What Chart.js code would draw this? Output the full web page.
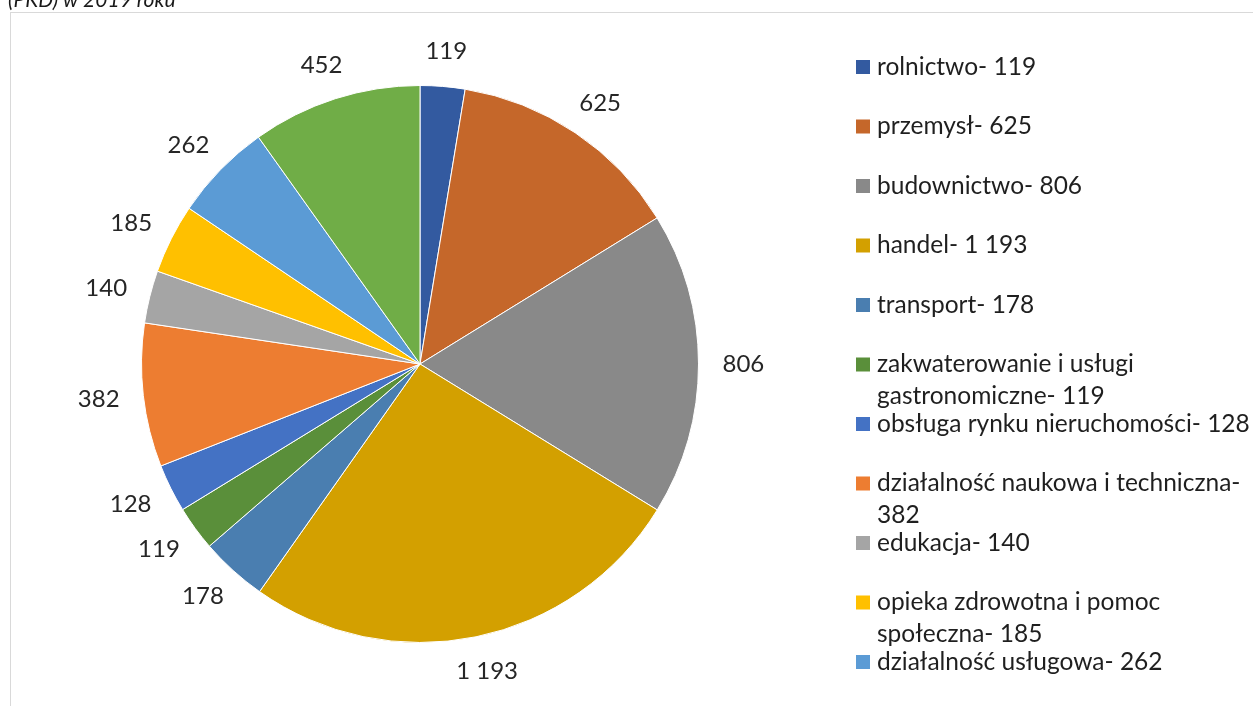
<!DOCTYPE html>
<html>
<head>
<meta charset="utf-8">
<script src="https://cdn.jsdelivr.net/npm/chart.js@4/dist/chart.umd.min.js"></script>
<style>
  html, body { margin: 0; padding: 0; background: #fff; overflow: hidden; }
  #wrap { position: relative; width: 1253px; height: 706px; }
</style>
</head>
<body>
<div id="wrap"><canvas id="chart"></canvas></div>
<script>
const categories = [
  "rolnictwo", "przemysł", "budownictwo", "handel", "transport",
  "zakwaterowanie i usługi gastronomiczne", "obsługa rynku nieruchomości",
  "działalność naukowa i techniczna", "edukacja",
  "opieka zdrowotna i pomoc społeczna", "działalność usługowa", "pozostałe"
];
const values = [119, 625, 806, 1193, 178, 119, 128, 382, 140, 185, 262, 452];
const colors = [
  "#335AA0", "#C5672A", "#898989", "#D3A000", "#4A7EB0", "#5A8F3A",
  "#4472C4", "#ED7D31", "#A5A5A5", "#FFC000", "#5B9BD5", "#70AD47"
];
const titleText = "(PKD) w 2019 roku";

const FONT = "Lato, 'Noto Sans', sans-serif";

// 1193 -> "1 193"
const fmt = v => String(v).replace(/\B(?=(\d{3})+(?!\d))/g, " ");

// frame + cut-off title
const framePlugin = {
  id: "frame",
  beforeDraw(chart) {
    const c = chart.ctx;
    c.save();
    c.strokeStyle = "#d9d9d9";
    c.lineWidth = 1;
    c.strokeRect(10.5, 12.5, 1400, 900);
    c.fillStyle = "#1a1a1a";
    c.font = "italic 21px " + FONT;
    c.textBaseline = "alphabetic";
    c.fillText(titleText, 8, 7);
    c.restore();
  }
};

// value labels outside the slices
const outLabels = {
  id: "outLabels",
  afterDatasetsDraw(chart) {
    const c = chart.ctx;
    const meta = chart.getDatasetMeta(0);
    c.save();
    c.font = "24px " + FONT;
    c.fillStyle = "#262626";
    c.textAlign = "center";
    c.textBaseline = "middle";
    meta.data.forEach((arc, i) => {
      const p = arc.getProps(["x", "y", "startAngle", "endAngle", "outerRadius"], true);
      const mid = (p.startAngle + p.endAngle) / 2;
      const cos = Math.cos(mid), sin = Math.sin(mid);
      const txt = fmt(values[i]);
      const w = c.measureText(txt).width;
      const r = p.outerRadius + 24;
      const x = p.x + cos * r + cos * w / 2;
      const y = p.y + sin * r + sin * 11;
      c.fillText(txt, x, y);
    });
    c.restore();
  }
};

// legend on the right with word wrap
const sideLegend = {
  id: "sideLegend",
  afterDraw(chart) {
    const c = chart.ctx;
    const x0 = 856, y0 = 67, step = 59.5, lineH = 32, maxW = 385;
    c.save();
    c.font = "24.5px " + FONT;
    c.textBaseline = "middle";
    categories.forEach((cat, i) => {
      const y = y0 + step * i;
      c.fillStyle = colors[i];
      c.fillRect(x0, y - 7, 14, 14);
      c.fillStyle = "#1f1f1f";
      const words = (cat + "- " + fmt(values[i])).split(" ");
      let line = "", ly = y;
      words.forEach(wd => {
        const test = line ? line + " " + wd : wd;
        if (line && c.measureText(test).width > maxW) {
          c.fillText(line, x0 + 21, ly);
          line = wd;
          ly += lineH;
        } else {
          line = test;
        }
      });
      c.fillText(line, x0 + 21, ly);
    });
    c.restore();
  }
};

new Chart(document.getElementById("chart"), {
  type: "pie",
  data: {
    labels: categories,
    datasets: [{
      data: values,
      backgroundColor: colors,
      borderColor: "#ffffff",
      borderWidth: 1
    }]
  },
  options: {
    responsive: true,
    maintainAspectRatio: false,
    animation: false,
    layout: { padding: { left: 141, top: 85, right: 554, bottom: 63 } },
    plugins: {
      legend: { display: false },
      tooltip: { enabled: false }
    }
  },
  plugins: [framePlugin, outLabels, sideLegend]
});
</script>
</body>
</html>
